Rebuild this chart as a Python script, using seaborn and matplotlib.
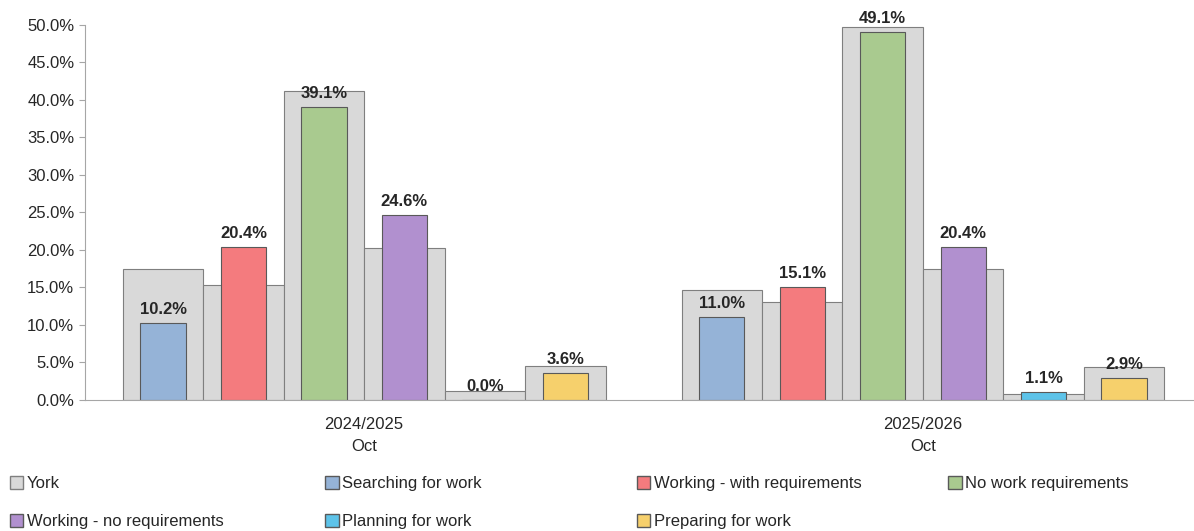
import matplotlib
matplotlib.use("Agg")
import matplotlib.pyplot as plt
import seaborn as sns
import numpy as np
from matplotlib.patches import Patch
from matplotlib.ticker import PercentFormatter

sns.set_style("white")
plt.rcParams['font.family'] = ['Liberation Sans', 'DejaVu Sans']

groups = ["2024/2025\nOct", "2025/2026\nOct"]
categories = ["Searching for work", "Working - with requirements", "No work requirements",
              "Working - no requirements", "Planning for work", "Preparing for work"]
york_2024 = [17.5, 15.3, 41.2, 20.2, 1.2, 4.5]
york_2025 = [14.6, 13.1, 49.7, 17.4, 0.8, 4.4]
vals_2024 = [10.2, 20.4, 39.1, 24.6, 0.0, 3.6]
vals_2025 = [11.0, 15.1, 49.1, 20.4, 1.1, 2.9]
colors = ["#95B3D7", "#F47B7E", "#A9CA8F", "#B190CF", "#5DC3E9", "#F6D06C"]
york_color = "#D9D9D9"

fig = plt.figure(figsize=(11.94, 5.31), dpi=100)
ax = fig.add_axes([0.071, 0.247, 0.936, 0.706])

slot = 0.144
offs = (np.arange(6) - 2.5) * slot
for g, (yv, cv) in enumerate([(york_2024, vals_2024), (york_2025, vals_2025)]):
    ax.bar(g + offs, yv, width=slot, color=york_color, edgecolor="#7F7F7F", linewidth=0.8, zorder=1)
    ax.bar(g + offs, cv, width=0.081, color=colors, edgecolor="#595959", linewidth=0.8, zorder=2)
    for x, y, c in zip(g + offs, yv, cv):
        ax.text(x, c + 0.8, f"{c:.1f}%", ha="center", va="bottom",
                fontsize=12, fontweight="bold", zorder=3)

ax.set_xlim(-0.5, 1.5)
ax.set_ylim(0, 50)
ax.set_yticks(np.arange(0, 51, 5))
ax.yaxis.set_major_formatter(PercentFormatter(decimals=1))
ax.set_xticks([0, 1])
ax.set_xticklabels(groups, fontsize=12, linespacing=1.6)
ax.set_xticks([0.5], minor=True)
ax.tick_params(axis="x", which="major", length=0, pad=12)
ax.tick_params(axis="x", which="minor", length=6, color="#A6A6A6")
ax.tick_params(axis="y", labelsize=12, length=4, color="#A6A6A6", left=True)
for s in ["top", "right"]:
    ax.spines[s].set_visible(False)
for s in ["left", "bottom"]:
    ax.spines[s].set_color("#A6A6A6")

handles = [Patch(facecolor=york_color, edgecolor="#7F7F7F", label="York")] + \
    [Patch(facecolor=c, edgecolor="#595959", label=l) for c, l in zip(colors, categories)]
columns = [[0, 4], [1, 5], [2, 6], [3]]
xpos = [0.0, 0.264, 0.525, 0.786]
for col, x in zip(columns, xpos):
    lg = fig.legend([handles[i] for i in col], [handles[i].get_label() for i in col],
                    loc="upper left", bbox_to_anchor=(x, 0.118 + 0.0), ncol=1, frameon=False,
                    fontsize=12, handlelength=0.8, handleheight=0.8, handletextpad=0.2,
                    labelspacing=1.35, borderaxespad=0.2)
    lg.set_bbox_to_anchor((x, 0.118 * 0 + 0.122), transform=fig.transFigure)
fig.savefig("out.png", dpi=100)
